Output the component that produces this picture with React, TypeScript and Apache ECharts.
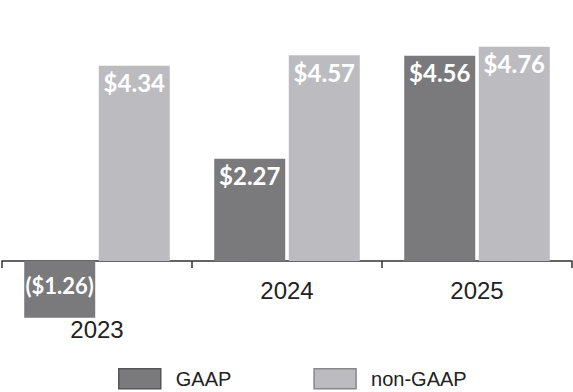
import React, { useEffect, useRef } from "react";
import * as echarts from "echarts";

const categories = ["2023", "2024", "2025"];
const gaapValues = [-1.26, 2.27, 4.56];
const nonGaapValues = [4.34, 4.57, 4.76];
const gaapLabels = ["($1.26)", "$2.27", "$4.56"];
const nonGaapLabels = ["$4.34", "$4.57", "$4.76"];

export default function App() {
  const ref = useRef<HTMLDivElement>(null);
  useEffect(() => {
    const chart = echarts.init(ref.current!, null, { renderer: "svg" });
    const labelStyle = {
      show: true,
      color: "#ffffff",
      fontFamily: "Lato",
      fontWeight: "bold" as const,
      fontSize: 24,
    };
    chart.setOption({
      animation: false,
      grid: { left: 2, right: 1, top: 0, bottom: 72.5, containLabel: false },
      legend: {
        left: 113,
        top: 363,
        itemWidth: 42,
        itemHeight: 20,
        itemGap: 82,
        icon: "rect",
        selectedMode: false,
        textStyle: {
          fontFamily: "Liberation Sans",
          fontSize: 20,
          color: "#222",
          padding: [0, 0, 0, 10],
        },
        data: [
          { name: "GAAP", itemStyle: { color: "#7a7a7c", borderColor: "#555", borderWidth: 1.5 } },
          { name: "non-GAAP", itemStyle: { color: "#bcbcc0", borderColor: "#888", borderWidth: 1.5 } },
        ],
      },
      xAxis: {
        type: "category",
        data: categories,
        axisLine: { show: true, onZero: true, lineStyle: { color: "#333", width: 1.5 } },
        axisTick: { show: true, length: 7, lineStyle: { color: "#333", width: 1.5 } },
        axisLabel: {
          fontFamily: "Liberation Sans",
          fontSize: 24,
          color: "#222",
          margin: -41,
          formatter: (v: string) => (v === "2023" ? "{low|" + v + "}" : v),
          rich: {
            low: {
              fontFamily: "Liberation Sans",
              fontSize: 24,
              color: "#222",
              padding: [39, 0, 0, 0],
            },
          },
        },
      },
      yAxis: {
        type: "value",
        min: -1.3,
        max: 5.8,
        show: false,
        splitLine: { show: false },
      },
      series: [
        {
          name: "GAAP",
          type: "bar",
          barWidth: 71,
          barGap: "5%",
          itemStyle: { color: "#7a7a7c" },
          data: gaapValues.map((v, i) => ({
            value: v,
            label:
              v < 0
                ? { ...labelStyle, fontSize: 22, position: "inside", offset: [0, -4], formatter: gaapLabels[i] }
                : { ...labelStyle, position: "insideTop", distance: 5, formatter: gaapLabels[i] },
          })),
        },
        {
          name: "non-GAAP",
          type: "bar",
          barWidth: 71,
          barGap: "5%",
          itemStyle: { color: "#bcbcc0" },
          data: nonGaapValues.map((v, i) => ({
            value: v,
            label: { ...labelStyle, position: "insideTop", distance: 5, formatter: nonGaapLabels[i] },
          })),
        },
      ],
    });
    return () => chart.dispose();
  }, []);
  return <div ref={ref} style={{ width: 573, height: 392, position: "absolute", left: 0, top: 0 }} />;
}
